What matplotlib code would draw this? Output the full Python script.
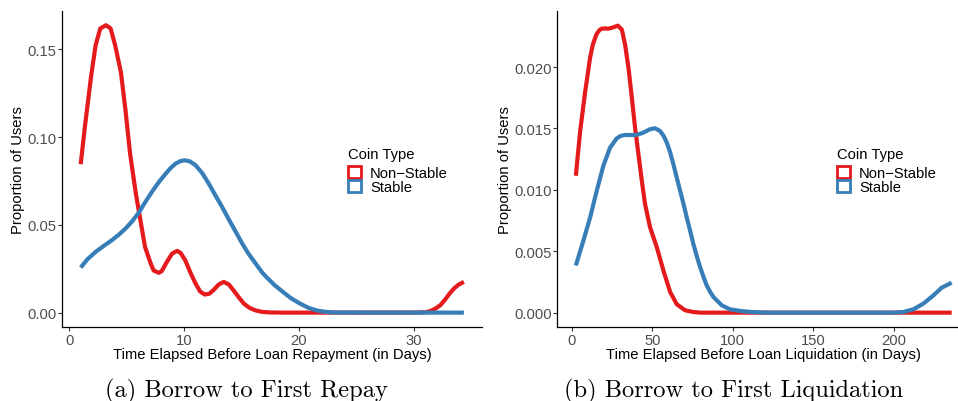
import numpy as np
import matplotlib
matplotlib.use('Agg')
import matplotlib.pyplot as plt
from matplotlib.patches import Patch
from matplotlib.ticker import FormatStrFormatter

plt.rcParams['font.family'] = ['Liberation Sans', 'DejaVu Sans']

RED = '#E41A1C'
BLUE = '#377EB8'
FS = 10.6

# (a) borrow -> first repay, density
repay_x_ns = [1.0, 1.4, 1.9, 2.3, 2.7, 3.2, 3.6, 4.0, 4.5, 4.9, 5.3, 5.8, 6.2, 6.6, 7.1, 7.35,
              7.8, 8.05, 8.5, 8.95, 9.4, 9.7, 10.1, 10.55, 11.0, 11.4, 11.8, 12.2, 12.6, 13.0,
              13.45, 13.9, 14.3, 14.75, 15.2, 15.7, 16.2, 16.8, 17.5, 18.5, 22.0, 26.0, 30.0,
              31.0, 31.4, 31.85, 32.3, 32.7, 33.1, 33.5, 33.9, 34.35]
repay_y_ns = [0.0846, 0.1078, 0.1344, 0.1524, 0.1619, 0.1638, 0.1620, 0.1524, 0.1370, 0.1153,
              0.0906, 0.0678, 0.0526, 0.0374, 0.0279, 0.0240, 0.0227, 0.0236, 0.0289, 0.0336,
              0.0352, 0.0340, 0.0298, 0.0228, 0.0165, 0.0120, 0.0103, 0.0108, 0.0131, 0.0160,
              0.0175, 0.0160, 0.0127, 0.0088, 0.0051, 0.0027, 0.0013, 0.0004, 0.0001, 0.0,
              0.0, 0.0, 0.0, 0.0002, 0.0008, 0.0022, 0.0042, 0.0073, 0.0108, 0.0138, 0.0160,
              0.0175]

repay_x_s = [1.0, 1.6, 2.3, 3.0, 3.7, 4.3, 4.9, 5.5, 6.1, 6.6, 7.2, 7.8, 8.4, 8.8, 9.25, 9.7,
             10.1, 10.5, 11.0, 11.6, 12.15, 12.7, 13.3, 13.9, 14.5, 15.0, 15.6, 16.2, 16.8,
             17.2, 17.9, 18.6, 19.3, 20.1, 20.8, 21.5, 22.2, 23.0, 26.0, 30.0, 34.35]
repay_y_s = [0.0257, 0.0305, 0.0346, 0.0380, 0.0412, 0.0443, 0.0479, 0.0522, 0.0574, 0.0628,
             0.0688, 0.0744, 0.0792, 0.0822, 0.0849, 0.0864, 0.0868, 0.0862, 0.0840, 0.0793,
             0.0735, 0.0671, 0.0603, 0.0530, 0.0460, 0.0400, 0.0336, 0.0282, 0.0228, 0.0200,
             0.0155, 0.0118, 0.0082, 0.0051, 0.0028, 0.0013, 0.0005, 0.0001, 0.0, 0.0, 0.0]

# (b) borrow -> first liquidation
liq_x_ns = [2.5, 5.2, 8.3, 11.4, 13.0, 14.5, 15.5, 16.5, 17.5, 18.6, 20.6, 22.7, 25.8, 28.6,
            31.1, 33.1, 35.2, 37.3, 39.3, 41.4, 43.5, 45.5, 48.6, 52.8, 56.9, 61.1, 65.2,
            70.4, 75.5, 80.0, 120.0, 160.0, 200.0, 236.0]
liq_y_ns = [0.01115, 0.0148, 0.0180, 0.0208, 0.0218, 0.02238, 0.0227, 0.0229, 0.02305,
            0.02313, 0.02315, 0.02313, 0.02324, 0.02338, 0.02305, 0.02183, 0.01994, 0.0175,
            0.01507, 0.0129, 0.01074, 0.00885, 0.00696, 0.00533, 0.00343, 0.00168, 0.00068,
            0.00019, 0.00005, 0.0, 0.0, 0.0, 0.0, 0.0]

liq_x_s = [2.5, 7.2, 11.4, 15.5, 19.6, 23.8, 27.9, 30.5, 33.1, 36.2, 39.3, 42.0, 44.5, 48.6,
           51.7, 54.8, 57.0, 59.0, 61.0, 63.1, 65.2, 67.3, 69.4, 71.4, 73.5, 75.5, 77.6, 79.7,
           81.8, 83.8, 86.0, 88.0, 93.2, 98.3, 104.5, 110.7, 120.0, 160.0, 200.0, 206.0,
           212.2, 218.4, 224.6, 229.8, 236.0]
liq_y_s = [0.00384, 0.00587, 0.00776, 0.00993, 0.01196, 0.01345, 0.0142, 0.0144, 0.01447,
           0.01447, 0.01447, 0.01455, 0.01467, 0.01494, 0.01502, 0.0148, 0.0144, 0.01385,
           0.0131, 0.01209, 0.0110, 0.00993, 0.00885, 0.00776, 0.00668, 0.0056, 0.00462,
           0.00371, 0.00292, 0.00222, 0.00168, 0.00127, 0.00059, 0.00027, 0.00014, 0.00006,
           0.0, 0.0, 0.0, 0.00005, 0.00027, 0.00073, 0.0014, 0.00203, 0.00244]

labels = ['Non\u2212Stable', 'Stable']

W, H = 958, 402
fig = plt.figure(figsize=(W / 100, H / 100), dpi=100)
ax1 = fig.add_axes([61.5 / W, 74 / H, 421 / W, 316 / H])
ax2 = fig.add_axes([557 / W, 74 / H, 413.5 / W, 316 / H])


def style(ax, xlabel, fmt):
    for s in ['top', 'right']:
        ax.spines[s].set_visible(False)
    for s in ['left', 'bottom']:
        ax.spines[s].set_linewidth(0.9)
        ax.spines[s].set_color('black')
    ax.tick_params(length=2.6, width=0.8, color='#333333', labelcolor='#4D4D4D',
                   labelsize=FS)
    ax.tick_params(axis='y', pad=1.2)
    ax.tick_params(axis='x', pad=1.5)
    ax.yaxis.set_major_formatter(FormatStrFormatter(fmt))
    ax.set_xlabel(xlabel, fontsize=FS, labelpad=0.5)
    ax.set_ylabel('Proportion of Users', fontsize=FS, labelpad=1.5)


def legend(ax, x, y):
    handles = [Patch(facecolor='white', edgecolor=c, linewidth=2.0) for c in (RED, BLUE)]
    leg = ax.legend(handles, labels, title='Coin Type', loc='upper left',
                    bbox_to_anchor=(x / W, 1 - y / H), bbox_transform=fig.transFigure,
                    frameon=False, handlelength=0.9, handleheight=0.9, handletextpad=0.6,
                    labelspacing=0.0, borderpad=0, borderaxespad=0, fontsize=FS,
                    title_fontsize=FS, alignment='left')
    leg._legend_box.sep = 4


ax1.plot(repay_x_ns, repay_y_ns, color=RED, lw=3, solid_capstyle='butt')
ax1.plot(repay_x_s, repay_y_s, color=BLUE, lw=3, solid_capstyle='butt')
ax1.set_xlim(-0.67, 35.97)
ax1.set_ylim(-0.0082, 0.1719)
ax1.set_xticks([0, 10, 20, 30])
ax1.set_yticks([0.0, 0.05, 0.10, 0.15])
style(ax1, 'Time Elapsed Before Loan Repayment (in Days)', '%.2f')
legend(ax1, 348, 147.5)

ax2.plot(liq_x_ns, liq_y_ns, color=RED, lw=3, solid_capstyle='butt')
ax2.plot(liq_x_s, liq_y_s, color=BLUE, lw=3, solid_capstyle='butt')
ax2.set_xlim(-9.2, 247.7)
ax2.set_ylim(-0.00117, 0.02457)
ax2.set_xticks([0, 50, 100, 150, 200])
ax2.set_yticks([0.0, 0.005, 0.010, 0.015, 0.020])
style(ax2, 'Time Elapsed Before Loan Liquidation (in Days)', '%.3f')
legend(ax2, 837, 147.5)

fig.text(246.7 / W, 1 - 397 / H, '(a) Borrow to First Repay', ha='center',
         va='baseline', family='cmr10', fontsize=17.6)
fig.text(734 / W, 1 - 397 / H, '(b) Borrow to First Liquidation', ha='center',
         va='baseline', family='cmr10', fontsize=17.6)

fig.savefig('out.png', dpi=100)
